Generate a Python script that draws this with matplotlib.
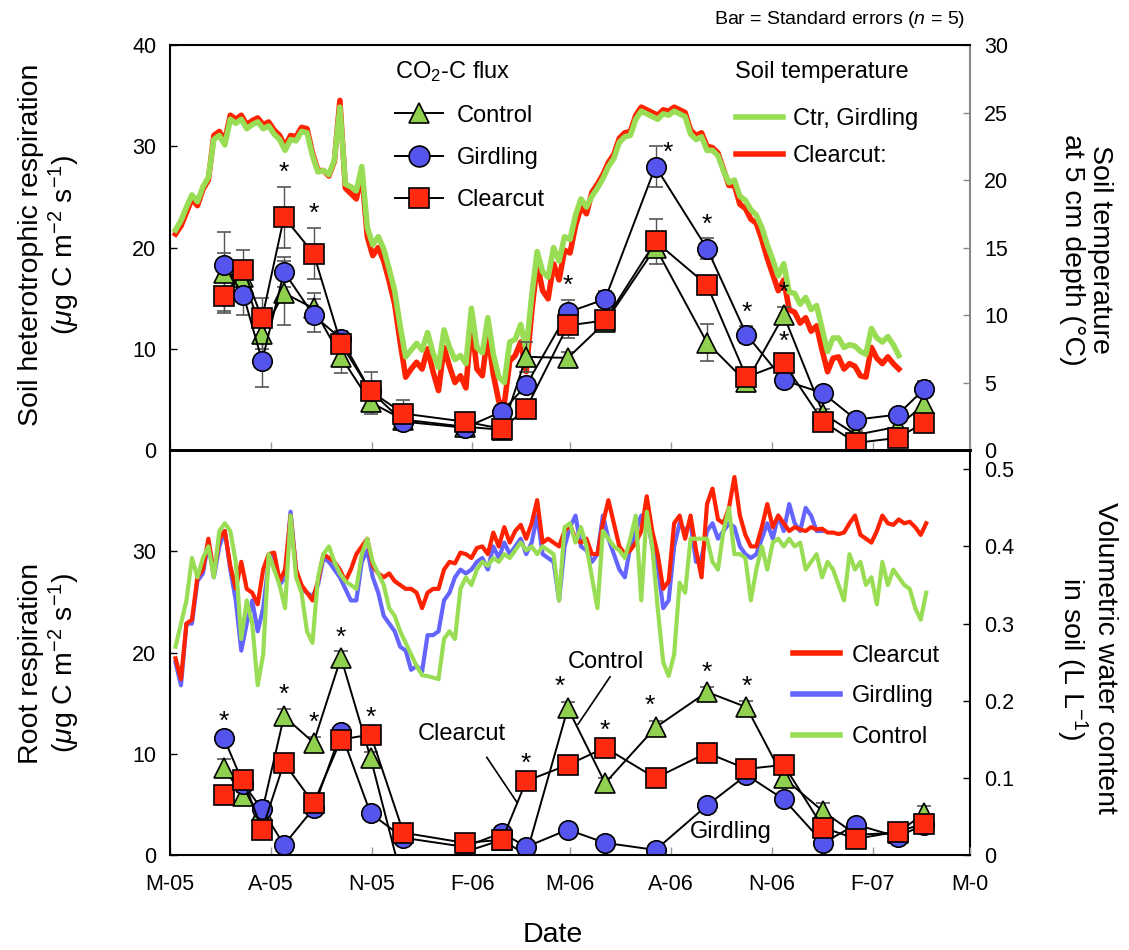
import matplotlib
matplotlib.use('Agg')
import matplotlib.pyplot as plt
import matplotlib.dates as mdates
from matplotlib.lines import Line2D
import numpy as np
import pandas as pd

plt.rcParams['font.family'] = ['Liberation Sans', 'DejaVu Sans']
plt.rcParams['mathtext.fontset'] = 'custom'
plt.rcParams['mathtext.rm'] = 'Liberation Sans'
plt.rcParams['mathtext.it'] = 'Liberation Sans:italic'
plt.rcParams['mathtext.bf'] = 'Liberation Sans:bold'

# ---------------- data ----------------
# chamber sampling dates
sample_dates = ["2005-06-19", "2005-07-07", "2005-07-24", "2005-08-13", "2005-09-09",
                "2005-10-04", "2005-10-31", "2005-11-30", "2006-01-25", "2006-02-28",
                "2006-03-22", "2006-04-29", "2006-06-02", "2006-07-18", "2006-09-03",
                "2006-10-09", "2006-11-12", "2006-12-18", "2007-01-17", "2007-02-24",
                "2007-03-20"]

# soil heterotrophic respiration (ug C m-2 s-1)
het_ctrl = [17.5, 17.1, 11.5, 15.5, 14.0, 9.2, 4.7, 3.0, 2.3, 2.0, 9.2,
            9.1, 12.6, 20.0, 10.6, 6.7, 13.3, 3.6, 1.5, 2.3, 4.5]
het_gird = [18.3, 15.3, 8.8, 17.6, 13.3, 11.0, 5.8, 2.8, 2.2, 3.8, 6.4,
            13.6, 14.9, 28.0, 19.9, 11.4, 6.9, 5.6, 3.0, 3.5, 6.0]
het_clear = [15.2, 17.8, 13.0, 23.0, 19.4, 10.5, 5.8, 3.6, 2.8, 2.1, 4.1,
             12.3, 12.8, 20.6, 16.3, 7.2, 8.6, 2.8, 0.7, 1.2, 2.7]
het_ctrl_se = [4.0, 1.0, 1.5, 3.2, 1.5, 1.6, 1.1, 0.5, 0.4, 0.4, 1.5,
               0.6, 0.8, 0.8, 1.8, 0.5, 0.8, 0.5, 0.4, 0.5, 0.8]
het_gird_se = [1.2, 2.0, 2.6, 1.5, 1.6, 0.8, 0.6, 0.5, 0.5, 0.6, 0.8,
               1.2, 0.8, 2.0, 1.0, 0.8, 0.8, 0.5, 0.5, 0.6, 0.8]
het_clear_se = [1.5, 2.0, 2.0, 3.0, 2.5, 0.8, 1.9, 1.3, 0.5, 0.4, 0.6,
                1.2, 0.8, 2.2, 0.8, 0.6, 0.8, 0.5, 0.4, 0.5, 0.6]

# root respiration (ug C m-2 s-1)
root_ctrl = [8.6, 5.8, 4.3, 13.7, 11.1, 19.5, 9.6, -3.0, 0.3, 1.5, 0.0,
             14.5, 7.1, 12.6, 16.1, 14.6, 7.6, 4.3, 2.0, 2.2, 4.1]
root_gird = [11.6, 7.0, 4.5, 1.0, 4.6, 12.1, 4.1, 1.7, 0.8, 2.2, 0.8,
             2.5, 1.2, 0.5, 4.9, 7.9, 5.5, 1.2, 3.0, 1.8, 3.0]
root_clear = [5.9, 7.4, 2.5, 9.1, 5.1, 11.4, 11.9, 2.2, 1.2, 1.5, 7.3,
              8.9, 10.6, 7.6, 10.1, 8.5, 8.9, 2.7, 1.6, 2.3, 3.1]
root_ctrl_se = [0.9, 0.4, 0.4, 0.7, 0.6, 0.6, 0.6, 0.3, 0.3, 0.3, 0.3,
                0.6, 0.5, 0.6, 0.5, 0.6, 0.4, 0.8, 0.4, 0.4, 0.7]
root_gird_se = [0.3, 0.3, 0.8, 0.3, 0.3, 0.4, 0.3, 0.3, 0.3, 0.7, 0.3,
                0.3, 0.3, 0.3, 0.3, 0.3, 0.3, 0.3, 0.5, 0.4, 0.3]
root_clear_se = [0.3] * 21

# significance marks (sampling index)
het_stars = [3, 4, 11, 13, 14, 15, 16]
root_stars = [0, 3, 4, 5, 6, 10, 11, 12, 13, 14, 15]

# soil temperature at 5 cm, every 5 days from 6 May 2005
temp_start = "2005-05-06"
temp_ctrl = [16.3, 17.0, 18.0, 18.9, 18.4, 19.5, 20.2, 23.0, 23.3, 22.6,
             24.5, 24.2, 24.5, 23.8, 24.1, 24.3, 23.8, 24.0, 23.4, 23.0,
             22.2, 23.0, 22.9, 23.6, 23.5, 21.8, 20.6, 20.7, 20.4, 21.5,
             25.4, 19.7, 19.5, 19.2, 21.0, 16.5, 15.2, 15.8, 14.9, 13.4,
             11.8, 9.2, 6.9, 7.4, 7.9, 7.4, 8.7, 7.2, 6.1, 8.9,
             7.6, 6.7, 7.0, 6.4, 10.5, 7.6, 7.2, 9.8, 7.1, 5.4,
             5.0, 8.0, 8.2, 9.3, 7.4, 11.4, 14.7, 13.2, 12.8, 15.0,
             14.0, 15.8, 15.6, 17.4, 18.6, 18.0, 18.8, 19.4, 20.1, 21.0,
             21.6, 22.8, 23.2, 23.3, 24.5, 25.1, 24.9, 24.7, 24.5, 24.9,
             24.8, 25.1, 24.9, 24.7, 23.4, 23.0, 23.2, 22.2, 22.2, 21.8,
             20.7, 19.8, 20.0, 18.8, 18.5, 17.8, 17.4, 16.5, 15.2, 14.1,
             12.9, 13.8, 11.7, 11.6, 10.8, 11.3, 10.4, 10.7, 9.0, 7.3,
             8.3, 8.3, 7.6, 7.8, 7.7, 7.3, 7.1, 9.0, 8.3, 8.0,
             8.4, 7.8, 7.0]
temp_clear = [16.0, 16.6, 17.6, 18.6, 18.1, 19.3, 20.0,
              23.3, 23.6, 22.9, 24.8, 24.5, 24.8, 24.1, 24.4, 24.6, 24.1,
              24.3, 23.7, 23.3, 22.5, 23.3, 23.2, 23.9, 23.8, 22.0, 20.7,
              20.7, 20.3, 21.4,
              25.9,
              19.4, 19.0, 18.6, 20.5, 15.8, 14.4, 15.0, 14.0, 12.5, 10.8,
              8.0, 5.4, 6.0, 6.5, 6.0, 7.5, 5.8, 4.4, 7.6, 6.2,
              5.0, 5.5, 4.6, 9.5, 6.0, 5.5, 8.6, 5.6, 3.6, 3.4,
              6.6, 7.0, 8.0, 5.8, 10.2,
              13.8, 11.8, 11.2, 13.8, 12.6, 14.8, 14.6, 16.6, 18.0, 17.5,
              19.1, 19.7, 20.4, 21.3, 21.9, 23.1, 23.5, 23.6, 24.8, 25.4,
              25.2, 25.0, 24.8, 25.2, 25.1, 25.4, 25.2, 25.0, 23.7, 23.3,
              23.5, 22.5, 22.4, 22.0, 20.8,
              19.6, 19.6, 18.2, 17.9, 17.1, 16.8, 15.6, 14.2, 13.0, 11.8,
              12.6, 10.4, 10.2, 9.4, 9.8, 8.8, 9.2, 7.4, 5.8, 6.8,
              6.9, 6.0, 6.4, 6.2, 5.5, 5.4, 7.6, 6.8, 6.4, 6.9,
              6.4, 6.0]

# volumetric soil water content (L L-1), every 5 days from 6 May 2005
vwc_start = "2005-05-06"
vwc_clear = [0.255, 0.228, 0.30, 0.305, 0.36, 0.37, 0.41, 0.365, 0.41, 0.42,
             0.375, 0.345, 0.38, 0.345, 0.34, 0.325, 0.37, 0.39, 0.392, 0.355,
             0.37, 0.44, 0.37, 0.35, 0.34, 0.33, 0.355, 0.39, 0.385, 0.38,
             0.37, 0.355, 0.37, 0.39, 0.40, 0.41, 0.375, 0.365, 0.36, 0.365,
             0.355, 0.35, 0.345, 0.345, 0.34, 0.32, 0.34, 0.345, 0.345, 0.37,
             0.38, 0.378, 0.392, 0.39, 0.385, 0.398, 0.40, 0.39, 0.418, 0.40,
             0.425, 0.405, 0.42, 0.428, 0.41, 0.43, 0.46, 0.405, 0.41, 0.405,
             0.40, 0.42, 0.428, 0.41, 0.405, 0.41, 0.39, 0.39, 0.43, 0.46,
             0.43, 0.40, 0.39, 0.395, 0.405, 0.42, 0.465, 0.42, 0.39, 0.345,
             0.355, 0.43, 0.44, 0.41, 0.44, 0.395, 0.36, 0.455, 0.475, 0.435,
             0.43, 0.45, 0.49, 0.44, 0.415, 0.40, 0.40, 0.425, 0.455, 0.425,
             0.44, 0.43, 0.42, 0.425, 0.422, 0.42, 0.425, 0.422, 0.423, 0.418,
             0.418, 0.416, 0.418, 0.43, 0.44, 0.415, 0.41, 0.405, 0.42, 0.44,
             0.43, 0.428, 0.435, 0.43, 0.432, 0.425, 0.415, 0.43]
vwc_gird = [0.25, 0.22, 0.30, 0.30, 0.355, 0.365, 0.405, 0.36, 0.40, 0.42,
            0.37, 0.33, 0.265, 0.30, 0.33, 0.29, 0.32, 0.38, 0.39, 0.35,
            0.36, 0.445, 0.37, 0.345, 0.34, 0.335, 0.35, 0.385, 0.38, 0.37,
            0.36, 0.345, 0.33, 0.33, 0.38, 0.395, 0.36, 0.34, 0.31, 0.30,
            0.29, 0.27, 0.265, 0.24, 0.245, 0.238, 0.285, 0.285, 0.29, 0.33,
            0.34, 0.36, 0.37, 0.365, 0.37, 0.38, 0.385, 0.37, 0.40, 0.385,
            0.405, 0.39, 0.40, 0.41, 0.39, 0.405, 0.44, 0.39, 0.385, 0.38,
            0.33, 0.40, 0.425, 0.44, 0.40, 0.395, 0.38, 0.39, 0.44, 0.41,
            0.39, 0.37, 0.36, 0.40, 0.42, 0.44, 0.44, 0.40, 0.375, 0.32,
            0.33, 0.40, 0.43, 0.42, 0.43, 0.38, 0.385, 0.42, 0.43, 0.41,
            0.42, 0.43, 0.425, 0.40, 0.39, 0.385, 0.39, 0.41, 0.43, 0.41,
            0.44, 0.42, 0.455, 0.43, 0.42, 0.45, 0.44, 0.42, 0.42]
vwc_ctrl = [0.27, 0.30, 0.33, 0.385, 0.36, 0.385, 0.40, 0.36, 0.42, 0.43,
            0.42, 0.38, 0.28, 0.33, 0.30, 0.22, 0.26, 0.39, 0.37, 0.35,
            0.32, 0.44, 0.36, 0.34, 0.29, 0.275, 0.36, 0.39, 0.40, 0.38,
            0.365, 0.355, 0.35, 0.345, 0.39, 0.41, 0.38, 0.365, 0.35, 0.32,
            0.31, 0.29, 0.275, 0.26, 0.245, 0.233, 0.232, 0.23, 0.228, 0.28,
            0.29, 0.28, 0.345, 0.36, 0.35, 0.37, 0.38, 0.375, 0.385, 0.38,
            0.39, 0.385, 0.395, 0.405, 0.395, 0.40, 0.39, 0.40, 0.395, 0.39,
            0.33, 0.425, 0.43, 0.405, 0.425, 0.40, 0.36, 0.32, 0.42, 0.41,
            0.40, 0.395, 0.385, 0.41, 0.44, 0.33, 0.445, 0.40, 0.32, 0.25,
            0.232, 0.26, 0.353, 0.34, 0.41, 0.41, 0.41, 0.41, 0.38, 0.37,
            0.42, 0.45, 0.39, 0.39, 0.385, 0.33, 0.37, 0.40, 0.37, 0.405,
            0.41, 0.40, 0.41, 0.40, 0.405, 0.37, 0.38, 0.39, 0.36, 0.38,
            0.37, 0.35, 0.33, 0.39, 0.37, 0.38, 0.35, 0.36, 0.325, 0.38,
            0.35, 0.37, 0.36, 0.35, 0.345, 0.32, 0.305, 0.34]

tick_dates = ["2005-05-01", "2005-08-01", "2005-11-01", "2006-02-01", "2006-05-01",
              "2006-08-01", "2006-11-01", "2007-02-01", "2007-05-01"]
tick_labels = ["M-05", "A-05", "N-05", "F-06", "M-06", "A-06", "N-06", "F-07", "M-0"]

# ---------------- style ----------------
c_green = '#8fd14f'
c_blue = '#5555ee'
c_red = '#ff2a10'
l_green = '#99dd55'
l_red = '#ff2200'
l_blue = '#6464ff'


def dnum(strs):
    return mdates.date2num(pd.to_datetime(strs).to_pydatetime())


def series_dates(start, n):
    return mdates.date2num(pd.date_range(start, periods=n, freq='5D').to_pydatetime())


xs = dnum(sample_dates)
xticks = dnum(tick_dates)


def draw_points(ax, vals, errs):
    specs = [('^', c_green), ('o', c_blue), ('s', c_red)]
    for (m, c), v, e in zip(specs, vals, errs):
        ax.errorbar(xs, v, yerr=e, fmt='-', color='k', lw=1.4, marker=m, ms=14,
                    mfc=c, mec='k', mew=1.2, ecolor='#555555', elinewidth=1,
                    capsize=5, capthick=1)


def draw_stars(ax, idxs, vals, errs, special):
    for i in idxs:
        top = max(v[i] + e[i] for v, e in zip(vals, errs))
        dx, dy = special.get(i, (0, 5))
        ax.annotate('*', (xs[i], top), xytext=(dx, dy), textcoords='offset points',
                    ha='center', va='baseline', fontsize=19)


def style_axes(ax, tw, right_color):
    ax.set_zorder(tw.get_zorder() + 1)
    ax.patch.set_visible(False)
    ax.spines['right'].set_visible(False)
    for s in ['left', 'top', 'bottom']:
        tw.spines[s].set_visible(False)
    tw.spines['right'].set_color(right_color)
    tw.spines['right'].set_linewidth(1.5)
    for s in ['left', 'top', 'bottom']:
        ax.spines[s].set_linewidth(1.5)
    ax.tick_params(axis='y', direction='in', length=5, width=1, labelsize=15.5, pad=10)
    ax.tick_params(axis='x', direction='in', length=6, width=1, color='#999999')
    tw.tick_params(axis='y', direction='in', length=5, width=1, color='#888888',
                   labelsize=15.5, pad=10)


fig = plt.figure(figsize=(11.29, 9.5), dpi=100)
ax1 = fig.add_axes([0.1506, 0.5263, 0.7086, 0.4263])
ax2 = fig.add_axes([0.1506, 0.1, 0.7086, 0.4263])
t1 = ax1.twinx()
t2 = ax2.twinx()

# ---- top panel: heterotrophic respiration + soil temperature
td = series_dates(temp_start, len(temp_ctrl))
t1.plot(series_dates(temp_start, len(temp_clear)), temp_clear, color=l_red, lw=4)
t1.plot(td, temp_ctrl, color=l_green, lw=4)
t1.set_ylim(0, 30)
t1.set_yticks(np.arange(0, 31, 5))

het_vals = [het_ctrl, het_gird, het_clear]
het_errs = [het_ctrl_se, het_gird_se, het_clear_se]
draw_points(ax1, het_vals, het_errs)
draw_stars(ax1, het_stars, het_vals, het_errs, {13: (9, -10)})
ax1.annotate('*', (xs[16], het_ctrl[16]), xytext=(0, -24), textcoords='offset points',
             ha='center', va='baseline', fontsize=19)
ax1.set_ylim(0, 40)
ax1.set_yticks(np.arange(0, 41, 10))
style_axes(ax1, t1, '#888888')
ax1.spines['bottom'].set_linewidth(2)

h_flux = [Line2D([], [], color='k', lw=1.4, marker=m, ms=15, mfc=c, mec='k', mew=1.2)
          for m, c in [('^', c_green), ('o', c_blue), ('s', c_red)]]
leg1 = ax1.legend(h_flux, ['Control', 'Girdling', 'Clearcut'], title='CO$_2$-C flux',
                  loc='upper left', bbox_to_anchor=(0.255, 1.017), frameon=False,
                  fontsize=17, title_fontsize=17, numpoints=1, handlelength=2.0,
                  handletextpad=0.6, labelspacing=0.86, alignment='left')
ax1.add_artist(leg1)
ax1.text(0.706, 0.933, 'Soil temperature', transform=ax1.transAxes, fontsize=17,
         ha='left', va='center')
h_temp = [Line2D([], [], color=l_green, lw=4), Line2D([], [], color=l_red, lw=4)]
ax1.legend(h_temp, ['Ctr, Girdling', 'Clearcut:'],
           loc='upper left', bbox_to_anchor=(0.681, 0.897), frameon=False,
           fontsize=17, handlelength=2.0, handletextpad=0.4, labelspacing=0.65)

# ---- bottom panel: root respiration + soil water
t2.plot(series_dates(vwc_start, len(vwc_gird)), vwc_gird, color=l_blue, lw=3)
t2.plot(series_dates(vwc_start, len(vwc_clear)), vwc_clear, color=l_red, lw=3)
t2.plot(series_dates(vwc_start, len(vwc_ctrl)), vwc_ctrl, color=l_green, lw=3)
t2.set_ylim(0, 0.525)
t2.set_yticks([0, 0.1, 0.2, 0.3, 0.4, 0.5])
t2.set_yticklabels(['0', '0.1', '0.2', '0.3', '0.4', '0.5'])

root_vals = [root_ctrl, root_gird, root_clear]
root_errs = [root_ctrl_se, root_gird_se, root_clear_se]
draw_points(ax2, root_vals, root_errs)
draw_stars(ax2, root_stars, root_vals, root_errs, {0: (0, 4), 11: (-6, 6), 13: (-4, 6)})
ax2.set_ylim(0, 40)
ax2.set_yticks([0, 10, 20, 30])
style_axes(ax2, t2, 'k')
ax2.spines['top'].set_linewidth(2)
t2.tick_params(axis='y', color='k')

ax2.legend([Line2D([], [], color=c, lw=4) for c in [l_red, l_blue, l_green]],
           ['Clearcut', 'Girdling', 'Control'], loc='upper left',
           bbox_to_anchor=(0.752, 0.572), frameon=False, fontsize=17,
           handlelength=2.0, handletextpad=0.5, labelspacing=0.8)

ax2.text(0.545, 0.476, 'Control', transform=ax2.transAxes, fontsize=17,
         ha='center', va='center')
ax2.plot([0.55, 0.51], [0.44, 0.323], color='k', lw=1.2, transform=ax2.transAxes)
ax2.text(0.365, 0.298, 'Clearcut', transform=ax2.transAxes, fontsize=17,
         ha='center', va='center')
ax2.plot([0.396, 0.434], [0.241, 0.129], color='k', lw=1.2, transform=ax2.transAxes)
ax2.text(0.701, 0.057, 'Girdling', transform=ax2.transAxes, fontsize=17,
         ha='center', va='center')

# ---- shared x axis
for ax in (ax1, ax2, t1, t2):
    ax.set_xlim(xticks[0], xticks[-1])
for ax in (ax1, ax2):
    ax.set_xticks(xticks)
ax1.set_xticklabels([])
ax2.set_xticklabels(tick_labels, fontsize=15.5)
ax2.tick_params(axis='x', pad=14)

# ---- axis titles
fig.text(0.044, 0.742, 'Soil heterotrophic respiration\n($\\mu$g C m$^{-2}$ s$^{-1}$)',
         rotation=90, ha='center', va='center', fontsize=20.5, linespacing=1.1)
fig.text(0.044, 0.302, 'Root respiration\n($\\mu$g C m$^{-2}$ s$^{-1}$)',
         rotation=90, ha='center', va='center', fontsize=20.5, linespacing=1.1)
fig.text(0.962, 0.737, 'Soil temperature\nat 5 cm depth (\u00b0C)',
         rotation=270, ha='center', va='center', fontsize=20.5, linespacing=1.1)
fig.text(0.962, 0.307, 'Volumetric water content\nin soil (L L$^{-1}$)',
         rotation=270, ha='center', va='center', fontsize=20.5, linespacing=1.1)
fig.text(0.49, 0.016, 'Date', ha='center', va='center', fontsize=20.5)
fig.text(0.855, 0.979, 'Bar = Standard errors ($n$ = 5)', ha='right', va='center',
         fontsize=14)

fig.savefig('out.png', dpi=100)
